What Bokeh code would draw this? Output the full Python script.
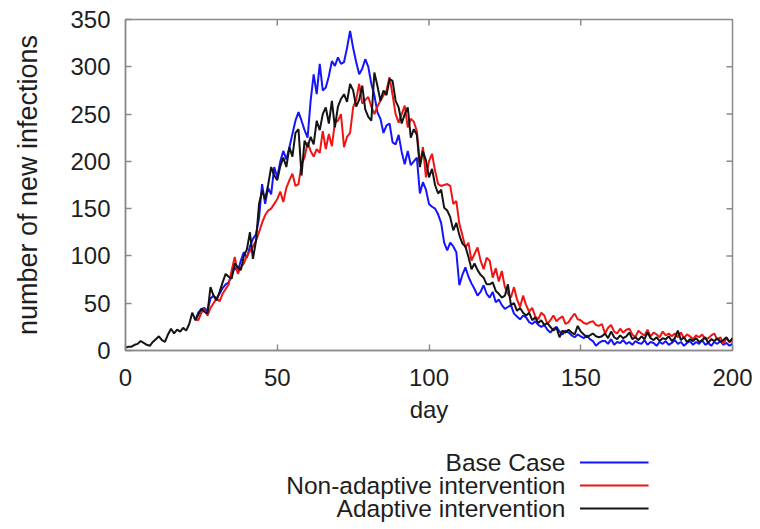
import math
from bokeh.plotting import figure
from bokeh.layouts import column
from bokeh.models import FixedTicker, ColumnDataSource
from bokeh.core.properties import value
from bokeh.embed import file_html
from bokeh.resources import INLINE

# ---------------- data ----------------
series_names = ["Base Case", "Non-adaptive intervention", "Adaptive intervention"]
series_colors = ["#1414ff", "#f01414", "#141414"]

x_ticks = [0, 50, 100, 150, 200]
y_ticks = [0, 50, 100, 150, 200, 250, 300, 350]

days_adaptive = list(range(0, 201))
adaptive = [
    3, 4, 4, 6, 7, 10, 8, 6, 5, 9,
    12, 15, 11, 9, 17, 23, 18, 22, 20, 24,
    21, 28, 40, 32, 38, 44, 41, 39, 67, 58,
    53, 62, 72, 81, 78, 76, 92, 88, 85, 100,
    107, 125, 97, 116, 155, 169, 160, 175, 194, 185,
    180, 195, 204, 194, 215, 205, 230, 234, 185, 222,
    215, 226, 218, 243, 233, 250, 257, 240, 264, 236,
    258, 266, 271, 263, 282, 275, 258, 265, 280, 255,
    247, 243, 294, 280, 264, 275, 270, 287, 285, 264,
    257, 240, 250, 257, 225, 234, 228, 194, 211, 201,
    183, 192, 175, 166, 170, 151, 148, 141, 127, 135,
    122, 113, 110, 99, 86, 92, 85, 80, 77, 70,
    70, 72, 63, 60, 56, 58, 70, 48, 50, 42,
    45, 40, 37, 40, 32, 35, 29, 32, 27, 29,
    25, 21, 24, 14, 21, 19, 22, 19, 17, 26,
    20, 17, 14, 16, 18, 15, 14, 15, 18, 13,
    20, 14, 12, 16, 13, 15, 19, 12, 14, 11,
    15, 12, 19, 13, 11, 14, 10, 13, 12, 15,
    10, 13, 21, 11, 14, 9, 12, 10, 13, 9,
    11, 14, 8, 12, 10, 13, 9, 11, 14, 9,
    13,
]

days_other = list(range(23, 201))
base_case = [
    32, 40, 44, 45, 42, 55, 58,
    55, 60, 66, 70, 72, 80, 88, 84, 95, 104,
    98, 110, 118, 123, 140, 176, 155, 172, 165, 194,
    183, 200, 211, 202, 215, 229, 243, 252, 243, 233,
    225, 264, 292, 271, 303, 275, 278, 290, 306, 301,
    310, 303, 305, 320, 338, 320, 305, 292, 298, 308,
    300, 282, 270, 252, 245, 230, 238, 240, 220, 218,
    228, 210, 197, 211, 196, 200, 204, 166, 178, 170,
    155, 152, 150, 144, 135, 114, 106, 114, 110, 104,
    69, 80, 88, 78, 71, 65, 58, 62, 69, 60,
    56, 62, 51, 54, 48, 44, 46, 48, 39, 36,
    33, 37, 35, 30, 28, 31, 27, 25, 27, 22,
    19, 23, 25, 20, 17, 21, 19, 16, 14, 17,
    15, 13, 16, 12, 10, 5, 8, 10, 10, 7,
    12, 6, 9, 8, 11, 7, 9, 6, 10, 8,
    7, 11, 6, 9, 8, 5, 9, 7, 10, 6,
    8, 11, 7, 9, 5, 8, 10, 6, 9, 7,
    11, 6, 8, 5, 9, 7, 10, 6, 8, 5,
    7,
]

non_adaptive = [
    33, 32, 40, 44, 37, 45, 50,
    55, 52, 60, 65, 70, 85, 99, 81, 88, 92,
    100, 105, 110, 116, 125, 135, 143, 148, 150, 155,
    160, 168, 157, 172, 180, 187, 174, 176, 197, 204,
    220, 211, 205, 213, 209, 232, 213, 229, 216, 241,
    243, 250, 215, 226, 230, 257, 265, 282, 261, 265,
    268, 258, 250, 258, 264, 270, 275, 289, 270, 250,
    241, 250, 259, 236, 245, 242, 232, 197, 215, 183,
    200, 208, 190, 176, 174, 175, 176, 174, 155, 158,
    134, 122, 109, 114, 95, 102, 109, 95, 86, 98,
    95, 77, 87, 73, 84, 67, 60, 56, 67, 54,
    46, 58, 48, 41, 45, 36, 33, 40, 37, 28,
    32, 37, 31, 34, 36, 28, 30, 35, 39, 33,
    32, 29, 28, 30, 31, 27, 26, 28, 18, 24,
    27, 20, 18, 23, 19, 22, 23, 17, 14, 21,
    18, 16, 22, 15, 19, 17, 14, 20, 16, 18,
    15, 18, 14, 19, 13, 17, 15, 12, 16, 14,
    17, 12, 13, 16, 18, 11, 14, 7, 13, 9,
    10,
]

# ---------------- styling ----------------
FONT = "Liberation Sans"
TXT = "#1e1e1e"
FRAME = "#8a8a8a"

W = 752
H_MAIN = 430
H_LEG = 98

p = figure(width=W, height=H_MAIN, x_range=(0, 200), y_range=(0, 350),
           output_backend="svg", toolbar_location=None,
           min_border_left=125, min_border_right=20,
           min_border_top=19, min_border_bottom=80)
p.grid.visible = False
p.outline_line_color = FRAME
p.outline_line_width = 1.5
p.background_fill_color = "white"
p.border_fill_color = "white"

for ax in (p.xaxis[0], p.yaxis[0]):
    ax.axis_line_color = FRAME
    ax.axis_line_width = 1.5
    ax.major_tick_line_color = FRAME
    ax.major_tick_line_width = 1.5
    ax.major_tick_in = 6
    ax.major_tick_out = 0
    ax.minor_tick_line_color = None
    ax.major_label_text_font = FONT
    ax.major_label_text_font_size = "24px"
    ax.major_label_text_color = TXT
    ax.axis_label_text_font = FONT
    ax.axis_label_text_font_style = "normal"
    ax.axis_label_text_color = TXT

p.xaxis[0].ticker = FixedTicker(ticks=x_ticks)
p.yaxis[0].ticker = FixedTicker(ticks=y_ticks)
p.xaxis[0].axis_label = "day"
p.xaxis[0].axis_label_text_font_size = "24px"
p.xaxis[0].major_label_standoff = 18
p.xaxis[0].axis_label_standoff = 7
p.yaxis[0].axis_label = "number of new infections"
p.yaxis[0].axis_label_text_font_size = "27px"
p.yaxis[0].major_label_standoff = 15
p.yaxis[0].axis_label_standoff = 24

# mirrored (inward) ticks on the top and right edges, gnuplot style
p.ray(x=x_ticks[1:-1], y=[350] * (len(x_ticks) - 2), length=6,
      angle=-math.pi / 2, length_units="screen",
      line_color=FRAME, line_width=1.5)
p.ray(x=[200] * (len(y_ticks) - 2), y=y_ticks[1:-1], length=6,
      angle=math.pi, length_units="screen",
      line_color=FRAME, line_width=1.5)

src_b = ColumnDataSource(dict(x=days_other, y=base_case))
src_r = ColumnDataSource(dict(x=days_other, y=non_adaptive))
src_k = ColumnDataSource(dict(x=days_adaptive, y=adaptive))
p.line("x", "y", source=src_b, line_color=series_colors[0], line_width=2)
p.line("x", "y", source=src_r, line_color=series_colors[1], line_width=2)
p.line("x", "y", source=src_k, line_color=series_colors[2], line_width=2)

# ---------------- legend (gnuplot style: text then sample line) ----------------
leg = figure(width=W, height=H_LEG, x_range=(0, W), y_range=(0, H_LEG),
             output_backend="svg", toolbar_location=None,
             min_border=0)
leg.axis.visible = False
leg.grid.visible = False
leg.outline_line_color = None
leg.background_fill_color = "white"
leg.border_fill_color = "white"

row_y = [66, 43, 20]
leg_src = ColumnDataSource(dict(
    tx=[545] * 3, ty=row_y, label=series_names,
    x0=[563] * 3, x1=[648] * 3, color=series_colors))
leg.text(x="tx", y="ty", text="label", source=leg_src,
         text_align="right", text_baseline="middle",
         text_font=value(FONT), text_font_size="24.5px", text_color=TXT)
leg.segment(x0="x0", y0="ty", x1="x1", y1="ty", source=leg_src,
            line_color="color", line_width=2)

layout = column(p, leg, spacing=0)
open("out.html", "w").write(file_html(layout, INLINE))
